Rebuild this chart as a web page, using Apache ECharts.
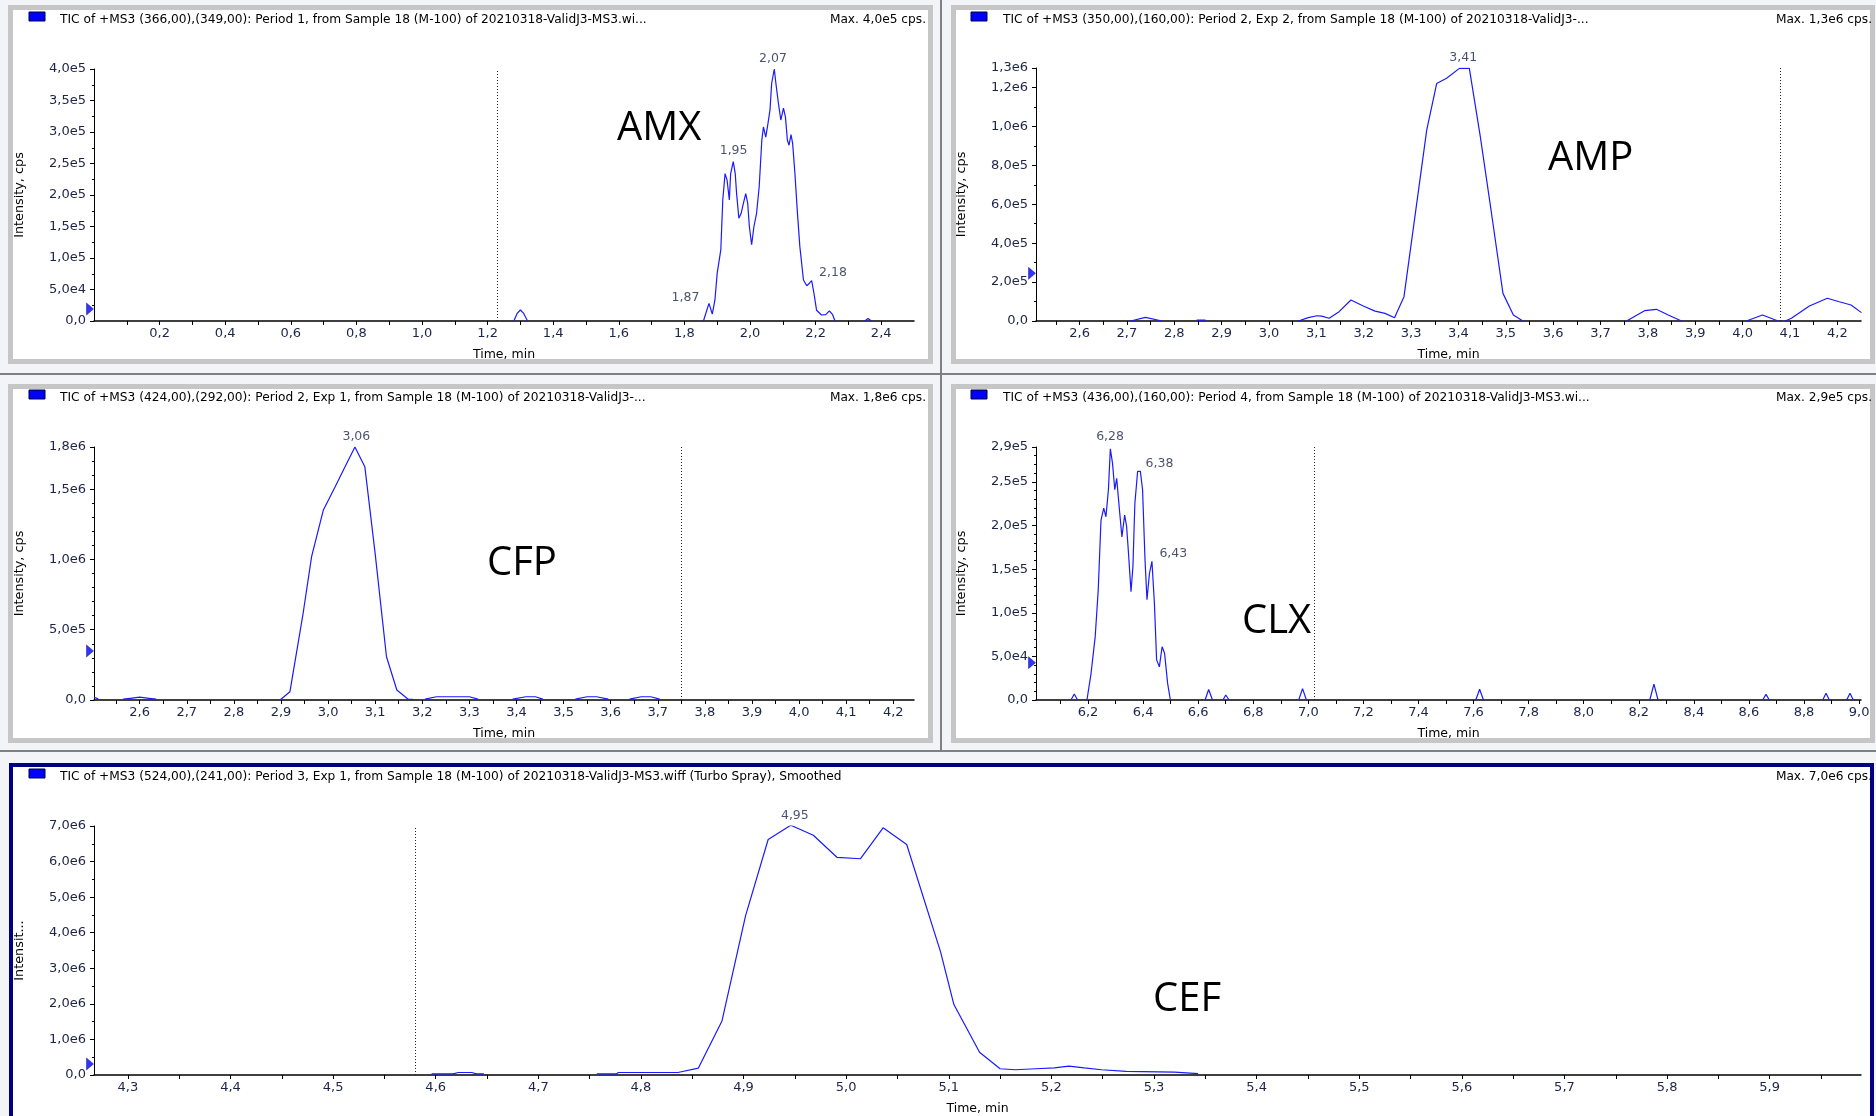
<!DOCTYPE html>
<html><head><meta charset="utf-8">
<script src="https://cdn.jsdelivr.net/npm/echarts@6/dist/echarts.min.js"></script>
<style>html,body{margin:0;padding:0;background:#f2f4f7}#c{width:1876px;height:1116px}</style>
</head><body><div id="c"></div>
<script>
// ---------- DATA ----------
// AMX panel
const amxTime = [1.28,1.29,1.30,1.31,1.322,null,
  1.858,1.875,1.885,1.893,1.900,1.911,1.917,1.924,1.930,1.937,1.941,1.949,1.955,1.959,1.966,1.973,1.980,1.987,1.993,1.998,
  2.005,2.012,2.020,2.028,2.036,2.041,2.048,2.054,2.061,2.066,2.074,2.079,2.086,2.094,2.102,2.108,2.114,2.119,2.125,2.130,
  2.137,2.144,2.152,2.163,2.173,2.181,2.188,2.195,2.203,2.218,2.231,2.242,2.252,2.259,null,2.35,2.36,2.37];
const amxIntensity = [0,1.2e4,1.75e4,1.2e4,0,null,
  0,2.8e4,1.1e4,3.3e4,7.6e4,1.13e5,1.92e5,2.34e5,2.24e5,1.92e5,2.34e5,2.53e5,2.34e5,2.03e5,1.63e5,1.71e5,1.87e5,2.02e5,1.87e5,1.50e5,
  1.21e5,1.50e5,1.71e5,2.13e5,2.87e5,3.08e5,2.92e5,3.11e5,3.35e5,3.77e5,4.0e5,3.77e5,3.48e5,3.19e5,3.38e5,3.24e5,2.87e5,2.79e5,2.96e5,2.82e5,
  2.34e5,1.76e5,1.18e5,6.5e4,5.6e4,6.0e4,6.4e4,4.4e4,1.7e4,9.5e3,1.0e4,1.6e4,1.0e4,0,null,0,4e3,0];
const amxPeakTimes = [1.87,1.95,2.07,2.18];
const amxPeakValues = [2.8e4,2.53e5,4.0e5,6.0e4];
const amxXLabels = [0.2,0.4,0.6,0.8,1.0,1.2,1.4,1.6,1.8,2.0,2.2,2.4];

// AMP panel
const ampTime = [2.708,2.739,2.774,null,2.847,2.866,null,
  3.062,3.083,3.101,3.111,3.127,3.148,3.173,3.199,3.224,3.245,3.265,3.285,3.333,3.354,3.375,3.402,3.423,3.446,3.470,3.494,3.516,3.536,null,
  3.755,3.793,3.818,3.843,3.871,null,4.008,4.042,4.075,null,4.090,4.103,4.141,4.179,4.204,4.229,4.251];
const ampIntensity = [0,1.9e4,0,null,4e3,4e3,null,
  0,1.7e4,2.7e4,2.5e4,1.4e4,4.8e4,1.08e5,7.7e4,5.1e4,3.9e4,1.7e4,1.25e5,9.81e5,1.22e6,1.247e6,1.298e6,1.298e6,9.5e5,5.5e5,1.42e5,3.1e4,0,null,
  0,5.3e4,6.0e4,3.1e4,0,null,0,3.1e4,0,null,0,1.4e4,7.7e4,1.17e5,9.9e4,8.2e4,4.3e4];
const ampPeakTimes = [3.41];
const ampPeakValues = [1.3e6];
const ampXLabels = [2.6,2.7,2.8,2.9,3.0,3.1,3.2,3.3,3.4,3.5,3.6,3.7,3.8,3.9,4.0,4.1,4.2];

// CFP panel
const cfpTime = [2.503,2.512,null,2.565,2.58,2.60,2.62,2.635,null,
  2.898,2.919,2.947,2.965,2.990,3.015,3.036,3.057,3.078,3.100,3.124,3.146,3.170,3.180,null,
  3.206,3.23,3.30,3.318,null,3.392,3.42,3.44,3.456,null,3.525,3.55,3.57,3.595,null,3.640,3.665,3.685,3.704];
const cfpIntensity = [2e4,8e3,null,6e3,1.2e4,2.0e4,1.2e4,6e3,null,
  0,5.9e4,6.17e5,1.02e6,1.352e6,1.517e6,1.66e6,1.80e6,1.66e6,1.04e6,3.08e5,7.1e4,5e3,4e3,null,
  6e3,2.3e4,2.3e4,6e3,null,6e3,2.3e4,2.3e4,6e3,null,6e3,2.3e4,2.3e4,6e3,null,6e3,2.3e4,2.3e4,6e3];
const cfpPeakTimes = [3.06];
const cfpPeakValues = [1.8e6];
const cfpXLabels = [2.6,2.7,2.8,2.9,3.0,3.1,3.2,3.3,3.4,3.5,3.6,3.7,3.8,3.9,4.0,4.1,4.2];

// CLX panel
const clxTime = [6.138,6.150,6.162,null,
  6.196,6.211,6.226,6.237,6.247,6.257,6.265,6.274,6.281,6.289,6.297,6.304,6.314,6.323,6.333,6.340,6.347,6.356,6.363,6.370,
  6.380,6.390,6.398,6.407,6.414,6.423,6.432,6.441,6.449,6.459,6.469,6.478,6.489,6.499,null,
  6.625,6.638,6.652,null,6.690,6.700,6.712,null,6.965,6.979,6.993,null,7.608,7.622,7.636,null,
  8.240,8.255,8.270,null,8.650,8.662,8.674,null,8.868,8.880,8.892,null,8.955,8.967,8.979];
const clxIntensity = [0,6.9e3,0,null,
  0,3.06e4,7.26e4,1.26e5,2.06e5,2.2e5,2.1e5,2.41e5,2.88e5,2.71e5,2.41e5,2.54e5,2.18e5,1.87e5,2.12e5,1.99e5,1.68e5,1.24e5,1.53e5,2.25e5,
  2.62e5,2.62e5,2.41e5,1.6e5,1.15e5,1.45e5,1.59e5,1.11e5,4.6e4,3.8e4,6.1e4,5.35e4,1.9e4,0,null,
  0,1.2e4,0,null,0,5.7e3,0,null,0,1.3e4,0,null,0,1.23e4,0,null,
  0,1.83e4,0,null,0,6.5e3,0,null,0,7.7e3,0,null,0,7.7e3,0];
const clxPeakTimes = [6.28,6.38,6.43];
const clxPeakValues = [2.9e5,2.62e5,1.59e5];
const clxXLabels = [6.2,6.4,6.6,6.8,7.0,7.2,7.4,7.6,7.8,8.0,8.2,8.4,8.6,8.8,9.0];

// CEF panel
const cefTime = [4.596,4.617,4.622,4.635,4.640,4.647,null,
  4.757,4.776,4.778,4.836,4.856,4.879,4.902,4.924,4.946,4.968,4.991,5.014,5.036,5.059,5.092,5.105,5.130,5.150,5.165,5.185,
  5.203,5.217,5.232,5.249,5.273,5.320,5.343];
const cefIntensity = [3e4,3e4,7e4,7e4,3e4,3e4,null,
  3e4,3e4,7e4,7e4,1.94e5,1.52e6,4.48e6,6.62e6,7.02e6,6.74e6,6.12e6,6.08e6,6.95e6,6.48e6,3.46e6,1.98e6,6.4e5,1.75e5,1.47e5,1.75e5,
  2.0e5,2.5e5,2.0e5,1.47e5,1.0e5,8e4,4e4];
const cefPeakTimes = [4.95];
const cefPeakValues = [7.0e6];
const cefXLabels = [4.3,4.4,4.5,4.6,4.7,4.8,4.9,5.0,5.1,5.2,5.3,5.4,5.5,5.6,5.7,5.8,5.9];

// dotted period lines and baseline markers
const periodLineTimes = [1.23, 4.075, 3.755, 7.017, 4.577];
const baselineMarkers = [1.9e4, 2.45e5, 3.49e5, 4.28e4, 3.1e5];

// axis extents
const xMins = [0, 2.508, 2.503, 6.011, 4.267];
const xMaxs = [2.5, 4.25, 4.244, 9.007, 5.989];
const yMaxs = [4.0e5, 1.3e6, 1.8e6, 2.9e5, 7.0e6];
const yIntervals = [5e4, 2e5, 5e5, 5e4, 1e6];
const yMinorSplits = [2, 2, 5, 5, 2];

const titles = [
  'TIC of +MS3 (366,00),(349,00): Period 1, from Sample 18 (M-100) of 20210318-ValidJ3-MS3.wi...',
  'TIC of +MS3 (350,00),(160,00): Period 2, Exp 2, from Sample 18 (M-100) of 20210318-ValidJ3-...',
  'TIC of +MS3 (424,00),(292,00): Period 2, Exp 1, from Sample 18 (M-100) of 20210318-ValidJ3-...',
  'TIC of +MS3 (436,00),(160,00): Period 4, from Sample 18 (M-100) of 20210318-ValidJ3-MS3.wi...',
  'TIC of +MS3 (524,00),(241,00): Period 3, Exp 1, from Sample 18 (M-100) of 20210318-ValidJ3-MS3.wiff (Turbo Spray), Smoothed'
];
const maxTexts = ['Max. 4,0e5 cps.','Max. 1,3e6 cps.','Max. 1,8e6 cps.','Max. 2,9e5 cps.','Max. 7,0e6 cps.'];
const compoundNames = ['AMX','AMP','CFP','CLX','CEF'];
const yNames = ['Intensity, cps','Intensity, cps','Intensity, cps','Intensity, cps','Intensit...'];

// ---------- LAYOUT ----------
const grids = [
  {left:94, top:69, width:820, height:252},
  {left:1036, top:68, width:825, height:253},
  {left:94, top:447, width:820, height:253},
  {left:1036, top:447, width:825, height:253},
  {left:94, top:826, width:1767, height:252}
];
const titleY = [20, 20, 398, 398, 777];
const titleX = [60, 1003, 60, 1003, 60];
const squareX = [29, 971, 29, 971, 29];
const maxX = [926, 1872, 926, 1872, 1872];
const bigLabelPos = [[617,129],[1548,159],[487,564],[1242,622],[1153,1000]];

const series = [
  [amxTime, amxIntensity, amxPeakTimes, amxPeakValues, amxXLabels],
  [ampTime, ampIntensity, ampPeakTimes, ampPeakValues, ampXLabels],
  [cfpTime, cfpIntensity, cfpPeakTimes, cfpPeakValues, cfpXLabels],
  [clxTime, clxIntensity, clxPeakTimes, clxPeakValues, clxXLabels],
  [cefTime, cefIntensity, cefPeakTimes, cefPeakValues, cefXLabels]
];
// label placement for peaks: [position, offsetX, offsetY]
const peakLabelPlace = [
  [['left',-4,-6],['top',0,0],['top',0,0],['right',6,-10]],
  [['top',0,0]],
  [['top',0,0]],
  [['top',0,0],['right',4,-8],['right',4,-8]],
  [['top',0,0]]
];

const FONT = '"DejaVu Sans", sans-serif';
const LABEL_COLOR = '#1c2448';
const fmtX = v => v.toFixed(1).replace('.', ',');
const fmtY = v => v === 0 ? '0,0' : v.toExponential(1).replace('.', ',').replace('e+', 'e');

function halfTicks(labels, step) {
  const out = [];
  const first = labels[0] - step;
  for (let i = 0; i <= labels.length * 2 + 2; i++) {
    out.push(+(first + i * step / 2).toFixed(3));
  }
  return out;
}

const option = {
  animation: false,
  backgroundColor: '#f2f4f7',
  grid: grids.map(g => Object.assign({containLabel:false}, g)),
  xAxis: [], yAxis: [], series: [], graphic: []
};

// frames
const G = option.graphic;
G.push({type:'rect', shape:{x:10.5,y:7.5,width:920,height:354}, style:{fill:'#fff', stroke:'#c6c6c6', lineWidth:5}, z:-10});
G.push({type:'rect', shape:{x:953.5,y:7.5,width:919,height:354}, style:{fill:'#fff', stroke:'#c6c6c6', lineWidth:5}, z:-10});
G.push({type:'rect', shape:{x:10.5,y:386.5,width:920,height:354}, style:{fill:'#fff', stroke:'#c6c6c6', lineWidth:5}, z:-10});
G.push({type:'rect', shape:{x:953.5,y:386.5,width:919,height:354}, style:{fill:'#fff', stroke:'#c6c6c6', lineWidth:5}, z:-10});
G.push({type:'rect', shape:{x:11,y:765,width:1861,height:400}, style:{fill:'#fff', stroke:'#000080', lineWidth:4}, z:-10});
G.push({type:'rect', shape:{x:0,y:373,width:1876,height:2}, style:{fill:'#808080'}, z:-9});
G.push({type:'rect', shape:{x:0,y:750,width:1876,height:2}, style:{fill:'#808080'}, z:-9});
G.push({type:'rect', shape:{x:940,y:0,width:2,height:751}, style:{fill:'#808080'}, z:-9});

for (let i = 0; i < 5; i++) {
  const [ts, vs, pts, pvs, xl] = series[i];
  const step = +(xl[1] - xl[0]).toFixed(3);
  const tickVals = halfTicks(xl, step).filter(v => v > xMins[i] + 1e-6 && v < xMaxs[i] - 1e-6);
  option.xAxis.push({
    type:'value', gridIndex:i, min:xMins[i], max:xMaxs[i],
    name:'Time, min', nameLocation:'middle', nameGap:27,
    nameTextStyle:{fontFamily:FONT, fontSize:12.5, color:'#000'},
    axisLine:{show:true, onZero:false, lineStyle:{color:'#000', width:1.5}},
    axisTick:{show:true, length:4, customValues:tickVals, lineStyle:{color:'#000'}},
    axisLabel:{customValues:xl, formatter:fmtX, fontFamily:FONT, fontSize:13, color:LABEL_COLOR, margin:6},
    splitLine:{show:false}
  });
  option.yAxis.push({
    type:'value', gridIndex:i, min:0, max:yMaxs[i], interval:yIntervals[i],
    name:yNames[i], nameLocation:'middle', nameGap:68,
    nameTextStyle:{fontFamily:FONT, fontSize:12.8, color:'#000'},
    axisLine:{show:true, lineStyle:{color:'#000', width:1}},
    axisTick:{show:true, length:4, lineStyle:{color:'#000'}},
    minorTick:{show:true, splitNumber:yMinorSplits[i], length:2, lineStyle:{color:'#000'}},
    axisLabel:{formatter:fmtY, fontFamily:FONT, fontSize:13, color:LABEL_COLOR, margin:8},
    splitLine:{show:false}, minorSplitLine:{show:false}
  });
  const data = ts.map((t, k) => (t === null || vs[k] === null) ? ['-', '-'] : [t, vs[k]]);
  option.series.push({
    type:'line', xAxisIndex:i, yAxisIndex:i, data, showSymbol:false, connectNulls:false,
    lineStyle:{color:'#1a1aff', width:1.2}, itemStyle:{color:'#1a1aff'}, silent:true,
    markLine:{symbol:'none', silent:true, label:{show:false},
      lineStyle:{color:'#222', width:1, type:[1,2]}, data:[{xAxis:periodLineTimes[i]}]}
  });
  option.series.push({
    type:'scatter', xAxisIndex:i, yAxisIndex:i, clip:false, symbolSize:0, silent:true,
    data: pts.map((t, k) => ({
      value:[t, pvs[k]],
      label:{show:true, position:peakLabelPlace[i][k][0], offset:[peakLabelPlace[i][k][1], peakLabelPlace[i][k][2]],
        distance:4, formatter: p => p.value[0].toFixed(2).replace('.', ','),
        fontFamily:FONT, fontSize:12.5, color:LABEL_COLOR}
    }))
  });
  option.series.push({
    type:'scatter', xAxisIndex:i, yAxisIndex:i, clip:false, silent:true,
    symbol:'path://M0,0 L7,6 L0,12 Z', symbolSize:[7,12], symbolOffset:[-4,0],
    itemStyle:{color:'#0000ff', borderColor:'#000060', borderWidth:0.5},
    data:[[xMins[i], baselineMarkers[i]]]
  });
  // titles
  G.push({type:'rect', shape:{x:squareX[i], y:titleY[i]-8, width:16, height:9},
    style:{fill:'#0000ff', stroke:'#000040', lineWidth:1}, z:5});
  G.push({type:'text', x:titleX[i], y:titleY[i], z:5,
    style:{text:titles[i], font:'12.2px ' + FONT, fill:'#000', align:'left', verticalAlign:'middle'}});
  G.push({type:'text', x:maxX[i], y:titleY[i], z:5,
    style:{text:maxTexts[i], font:'12.2px ' + FONT, fill:'#000', align:'right', verticalAlign:'middle'}});
  G.push({type:'text', x:bigLabelPos[i][0], y:bigLabelPos[i][1], z:5,
    style:{text:compoundNames[i], font:'40px "Open Sans", sans-serif', fill:'#000', align:'left', verticalAlign:'middle'}});
}

const chart = echarts.init(document.getElementById('c'), null, {renderer:'canvas'});
chart.setOption(option);
</script></body></html>
